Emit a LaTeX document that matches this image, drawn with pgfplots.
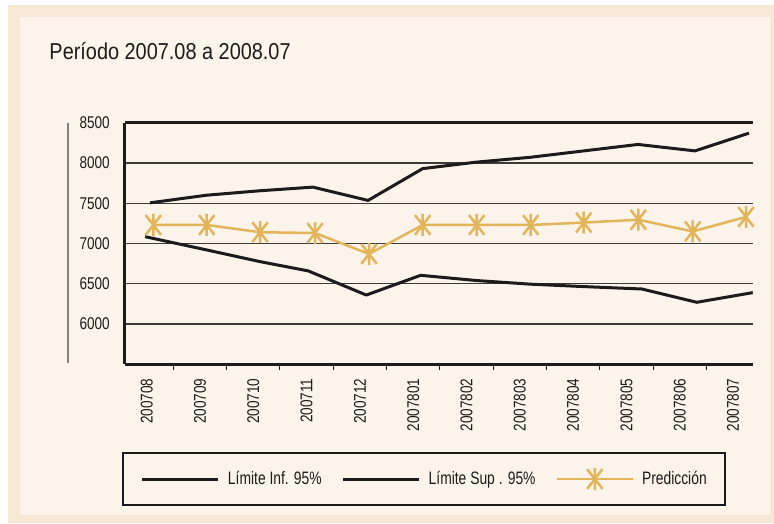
\documentclass[border=0pt]{standalone}
\usepackage{fontspec}
\usepackage{pgfplots}
\pgfplotsset{compat=1.18}
\setmainfont{Liberation Sans}
\newfontfamily\condfont{Liberation Sans}[FakeStretch=0.8]
\newfontfamily\titlefont{Liberation Sans}[FakeStretch=0.865]
\newfontfamily\legendfont{Liberation Sans}[FakeStretch=0.77]
\definecolor{tanband}{RGB}{247,232,213}
\definecolor{cream}{RGB}{252,244,234}
\definecolor{gold}{RGB}{227,181,90}
\definecolor{ink}{RGB}{28,26,26}
\definecolor{gridc}{RGB}{60,58,58}

\pgfdeclareplotmark{star6}{%
  \pgfpathmoveto{\pgfqpoint{0pt}{-\pgfplotmarksize}}%
  \pgfpathlineto{\pgfqpoint{0pt}{\pgfplotmarksize}}%
  \pgfpathmoveto{\pgfqpoint{-0.7\pgfplotmarksize}{-0.9\pgfplotmarksize}}%
  \pgfpathlineto{\pgfqpoint{0.7\pgfplotmarksize}{0.9\pgfplotmarksize}}%
  \pgfpathmoveto{\pgfqpoint{-0.7\pgfplotmarksize}{0.9\pgfplotmarksize}}%
  \pgfpathlineto{\pgfqpoint{0.7\pgfplotmarksize}{-0.9\pgfplotmarksize}}%
  \pgfusepathqstroke}

\begin{document}
\begin{tikzpicture}
\fill[white] (-125pt,-158.7pt) rectangle (649pt,364.3pt);
\fill[tanband] (-117pt,-158.7pt) rectangle (649pt,359.3pt);
\fill[cream] (-105pt,-150.7pt) rectangle (645pt,347.3pt);
\node[anchor=base west, inner sep=0pt, font=\titlefont\fontsize{23}{27}\selectfont, text=ink] at (-75.7pt,305pt) {Período 2007.08 a 2008.07};
\begin{axis}[
  at={(0pt,0pt)}, anchor=south west,
  scale only axis, width=628pt, height=241.6pt,
  xmin=-0.407, xmax=11.375, ymin=5500, ymax=8500,
  axis x line*=bottom, axis y line*=left,
  axis line style={-, line width=3pt, ink},
  ytick={6000,6500,7000,7500,8000,8500},
  yticklabels={6000,6500,7000,7500,8000,8500},
  xtick={0,...,11},
  xticklabels={200708,200709,200710,200711,200712,2007801,2007802,2007803,2007804,2007805,2007806,2007807},
  minor xtick={0.5,1.5,...,10.5},
  major tick length=0pt, minor tick length=6pt,
  tick align=outside,
  minor tick style={ink, line width=1pt},
  ymajorgrids, major grid style={gridc, line width=1.3pt},
  extra y ticks={8500}, extra y tick labels={},
  extra y tick style={grid=major, major grid style={ink, line width=2.8pt}},
  tick label style={font=\condfont\fontsize{17}{20}\selectfont, text=ink},
  xticklabel style={rotate=90, anchor=east, inner sep=0pt},
  yticklabel style={anchor=east, inner sep=0pt},
  xticklabel shift=14pt, yticklabel shift=15pt,
  clip=false,
  legend columns=3,
  legend style={at={(-0.0048,-0.363)}, anchor=north west, draw=ink, line width=2pt,
    fill=cream, inner xsep=18pt, inner ysep=15pt,
    font=\legendfont\fontsize{18}{21}\selectfont, text=ink,
    nodes={inner sep=0pt},
    /tikz/every odd column/.append style={column sep=8pt},
    /tikz/every even column/.append style={column sep=20pt}},
  legend image code/.code={\draw[mark repeat=2,mark phase=2] plot coordinates {(0pt,0pt) (38pt,0pt) (76pt,0pt)};},
]
\addplot[ink, line width=3pt, line join=round] coordinates {
  (-0.03,7085) (1.126,6920) (2.126,6775) (3.03,6660) (4.12,6360) (5.14,6605)
  (6.19,6540) (7.2,6495) (8.2,6465) (9.29,6435) (10.32,6270) (11.37,6390)};
\addlegendentry{Límite Inf. 95\%}
\addplot[ink, line width=3pt, line join=round] coordinates {
  (0.062,7505) (1.126,7600) (2.126,7655) (3.12,7700) (4.153,7535) (5.178,7930)
  (6.178,8010) (7.19,8070) (8.2,8150) (9.218,8230) (10.287,8150) (11.3,8370)};
\addlegendentry{Límite Sup . 95\%}
\addplot[gold, line width=2.5pt, line join=round, mark=star6, mark size=11pt, mark options={line width=2.5pt}] coordinates {
  (0.124,7230) (1.126,7230) (2.126,7140) (3.158,7130) (4.171,6870) (5.178,7230)
  (6.191,7230) (7.205,7230) (8.199,7260) (9.223,7295) (10.244,7150) (11.244,7330)};
\addlegendentry{Predicción\hspace{35pt}}
\end{axis}
\draw[gray, line width=1.2pt] (-57pt,1.3pt) -- (-57pt,241.3pt);
\end{tikzpicture}
\end{document}
